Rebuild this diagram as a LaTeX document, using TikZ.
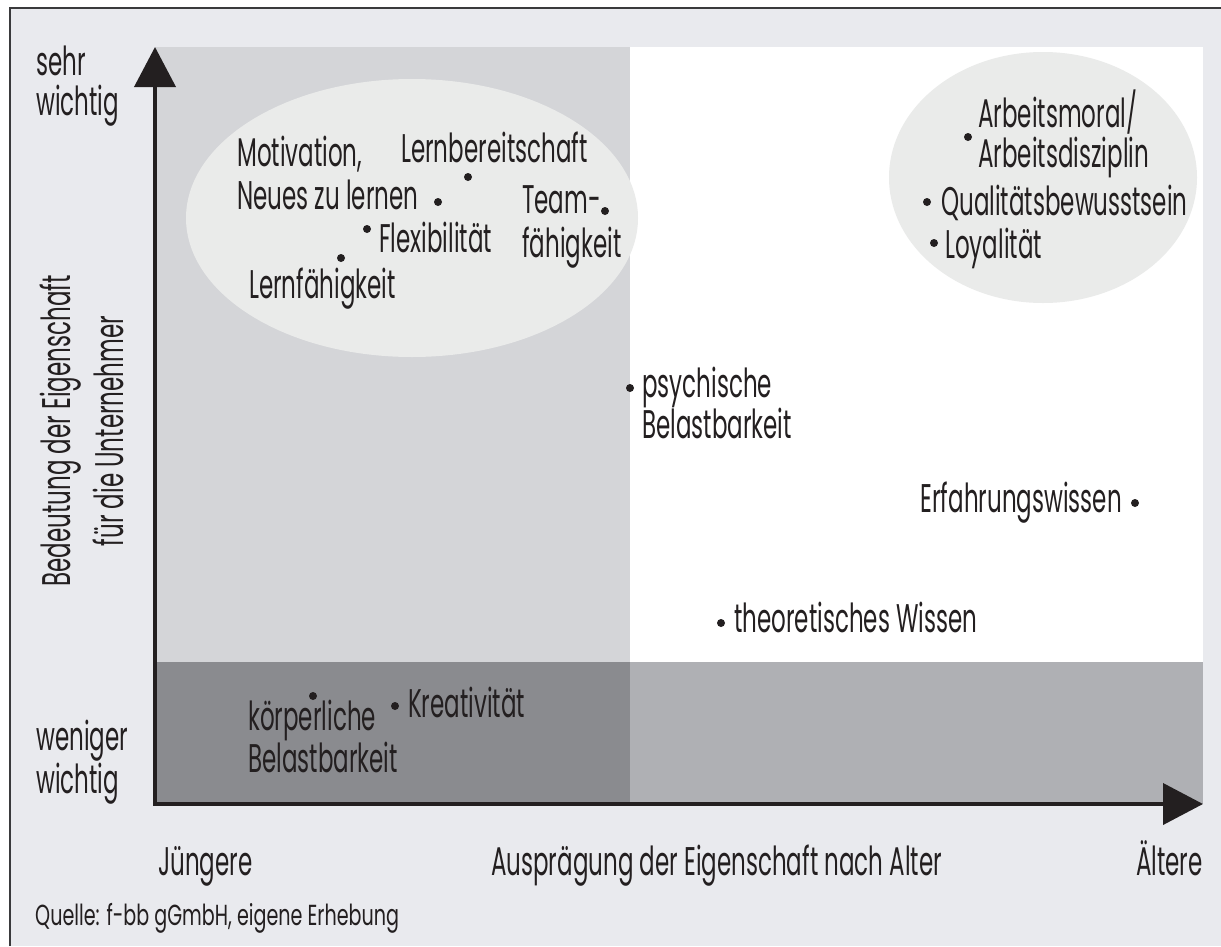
\documentclass[tikz,border=0pt]{standalone}
\usepackage{fontspec}
\setmainfont{Poppins}[FakeStretch=0.575]
\newfontfamily\quellefont{Poppins}[FakeStretch=0.66]
\usetikzlibrary{arrows.meta}
\definecolor{framebg}{HTML}{E9EAEE}
\definecolor{ulgrey}{HTML}{D4D5D8}
\definecolor{llgrey}{HTML}{8A8B8F}
\definecolor{lrgrey}{HTML}{AFB0B4}
\definecolor{ellgrey}{HTML}{EAEBEA}
\definecolor{ink}{HTML}{231F20}
\definecolor{frameline}{HTML}{3A3A3C}
\begin{document}
\begin{tikzpicture}[x=1pt,y=-1pt,
  lbl/.style={inner sep=0pt, anchor=base west, text=ink, align=left, font=\fontsize{40}{42}\selectfont},
  lbr/.style={lbl, anchor=base east, align=right},
  pt/.style={circle, fill=ink, inner sep=0pt, minimum size=8pt},
  axis/.style={line width=4pt, draw=ink, {Triangle[length=40pt,width=41pt]}-{Triangle[length=40pt,width=41pt]}},
]
\useasboundingbox (0,0) rectangle (1221,946);
\fill[white] (0,0) rectangle (1221,946);
\fill[framebg] (10,8) rectangle (1221,946);
\draw[line width=2pt, frameline] (10,946) -- (10,8) -- (1221,8);
% quadrants
\fill[ulgrey] (155,47) rectangle (630,662);
\fill[white] (630,47) rectangle (1203,662);
\fill[llgrey] (155,662) rectangle (630,804);
\fill[lrgrey] (630,662) rectangle (1203,804);
% clusters
\fill[ellgrey] (412,218) ellipse [x radius=226, y radius=139];
\fill[ellgrey] (1043,177.5) ellipse [x radius=154, y radius=125.5];
% axes
\coordinate (O) at (155,804);
\coordinate (ytip) at (155,47);
\coordinate (xtip) at (1203,804);
\draw[axis] (ytip) -- (O) -- (xtip);
% axis labels (base anchor = baseline of last line)
\node[lbl, font=\fontsize{40}{40}\selectfont] (sehr) at (36,115) {sehr\\wichtig};
\node[lbl, font=\fontsize{40}{40}\selectfont] (weniger) at (36,793) {weniger\\wichtig};
\node[inner sep=0pt, rotate=90, align=center, text=ink, font=\fontsize{40}{53}\selectfont] (ylab) at (82,431) {Bedeutung der Eigenschaft\\für die Unternehmer};
\node[lbl] (jung) at (158,875) {Jüngere};
\node[lbl] (xlab) at (491,875) {Ausprägung der Eigenschaft nach Alter};
\node[lbr] (alt) at (1203,875) {Ältere};
\node[lbl, font=\quellefont\fontsize{29}{32}\selectfont] (quelle) at (35,925) {Quelle: f-bb gGmbH, eigene Erhebung};
% points
\node[pt] (pMot) at (438,202) {};
\node[pt] (pLb) at (468,177) {};
\node[pt] (pTeam) at (605,211) {};
\node[pt] (pFlex) at (367,229) {};
\node[pt] (pLf) at (341,258) {};
\node[pt] (pAm) at (968,137) {};
\node[pt] (pQual) at (927,202) {};
\node[pt] (pLoy) at (934,243) {};
\node[pt] (pPsy) at (630,388) {};
\node[pt] (pErf) at (1135,503) {};
\node[pt] (pTheo) at (721,623) {};
\node[pt] (pKoerp) at (313,696) {};
\node[pt] (pKrea) at (395,706) {};
% labels
\node[lbl, font=\fontsize{40}{43}\selectfont] (tMot) at (237,209) {Motivation,\\Neues zu lernen};
\node[lbl] (tLb) at (401,162) {Lernbereitschaft};
\node[lbl, font=\fontsize{40}{44}\selectfont] (tTeam) at (522,257) {Team-\\fähigkeit};
\node[lbl] (tFlex) at (379,252) {Flexibilität};
\node[lbl] (tLf) at (249,298) {Lernfähigkeit};
\node[lbl, font=\fontsize{40}{40}\selectfont] (tAm) at (978,167) {Arbeitsmoral/\\Arbeitsdisziplin};
\node[lbl] (tQual) at (941,215) {Qualitätsbewusstsein};
\node[lbl] (tLoy) at (945,258) {Loyalität};
\node[lbl, font=\fontsize{40}{41}\selectfont] (tPsy) at (642,438) {psychische\\Belastbarkeit};
\node[lbr] (tErf) at (1122,512) {Erfahrungswissen};
\node[lbl] (tTheo) at (734,632) {theoretisches Wissen};
\node[lbl, font=\fontsize{40}{42}\selectfont] (tKoerp) at (248,772) {körperliche\\Belastbarkeit};
\node[lbl] (tKrea) at (408,717) {Kreativität};
\end{tikzpicture}
\end{document}
